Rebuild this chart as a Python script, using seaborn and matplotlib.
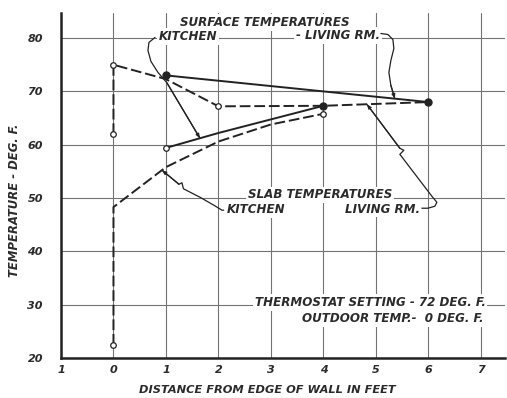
import numpy as np
import pandas as pd
import matplotlib
matplotlib.use("Agg")
import matplotlib.pyplot as plt
import seaborn as sns

# Measured temperatures (deg F) against distance from the edge of the wall (ft)
dist_surface_kitchen = [0, 0, 1, 2, 4, 6]
temp_surface_kitchen = [62, 75, 72.3, 67.2, 67.3, 68]
dist_surface_living = [1, 6]
temp_surface_living = [73, 68]
dist_slab_kitchen = [0, 0, 1, 2, 3, 4]
temp_slab_kitchen = [22.5, 48.3, 55.8, 60.6, 63.8, 65.8]
dist_slab_living = [1, 2, 4]
temp_slab_living = [59.4, 62.2, 67.3]

# Which readings carry open / filled circle markers (indices into each series)
open_surface_kitchen = [0, 1, 3]
open_slab_kitchen = [0, 5]
open_slab_living = [0]
filled_surface_living = [0, 1]
filled_slab_living = [2]

x_ticks = [-1, 0, 1, 2, 3, 4, 5, 6, 7]
x_tick_labels = ["1", "0", "1", "2", "3", "4", "5", "6", "7"]
y_ticks = [20, 30, 40, 50, 60, 70, 80]

sns.set_style("white")
plt.rcParams["font.family"] = ["DejaVu Sans"]

INK = "#222222"
GRID = "#737373"
LET = dict(family="DejaVu Sans", style="italic", weight="bold", color="#2b2b2b")
DASH = (0, (5.5, 2.0))

fig = plt.figure(figsize=(5.07, 3.98), dpi=100)
fig.patch.set_facecolor("white")
ax = fig.add_axes([0.1203, 0.1005, 0.8757, 0.8668])
ax.set_facecolor("white")

series = {
    "surface_kitchen": (dist_surface_kitchen, temp_surface_kitchen, DASH),
    "surface_living": (dist_surface_living, temp_surface_living, "-"),
    "slab_kitchen": (dist_slab_kitchen, temp_slab_kitchen, DASH),
    "slab_living": (dist_slab_living, temp_slab_living, "-"),
}
frames = {k: pd.DataFrame({"dist": v[0], "temp": v[1]}) for k, v in series.items()}

for name, (d, t, ls) in series.items():
    sns.lineplot(data=frames[name], x="dist", y="temp", sort=False, estimator=None,
                 color=INK, linestyle=ls, linewidth=1.4, ax=ax, zorder=4)

def markers(name, idx, filled):
    sub = frames[name].iloc[idx]
    sns.scatterplot(data=sub, x="dist", y="temp", ax=ax, zorder=6,
                    s=26 if filled else 16,
                    facecolor=INK if filled else "white",
                    edgecolor=INK, linewidth=0.9)

markers("surface_kitchen", open_surface_kitchen, False)
markers("slab_kitchen", open_slab_kitchen, False)
markers("slab_living", open_slab_living, False)
markers("surface_living", filled_surface_living, True)
markers("slab_living", filled_slab_living, True)

ax.set_xlim(-1, 7.46)
ax.set_ylim(20, 84.7)
ax.set_xticks(x_ticks)
ax.set_xticklabels(x_tick_labels)
ax.set_yticks(y_ticks)
ax.grid(True, color=GRID, linewidth=0.8)
ax.set_axisbelow(True)
for s in ("top", "right"):
    ax.spines[s].set_visible(False)
for s in ("left", "bottom"):
    ax.spines[s].set_color(INK)
    ax.spines[s].set_linewidth(1.8)
    ax.spines[s].set_zorder(5)
ax.tick_params(axis="x", length=0, pad=5, labelsize=8)
ax.tick_params(axis="y", length=0, pad=13, labelsize=8)
for lab in ax.get_xticklabels() + ax.get_yticklabels():
    lab.set_fontstyle("italic")
    lab.set_fontweight("bold")
    lab.set_color("#2b2b2b")

ax.set_xlabel("DISTANCE FROM EDGE OF WALL IN FEET", fontsize=8.2, **LET)
ax.set_ylabel("TEMPERATURE - DEG. F.", fontsize=8.4, **LET)
ax.xaxis.set_label_coords(0.464, -0.078)
ax.yaxis.set_label_coords(-0.090, 0.458)

box = dict(facecolor="white", edgecolor="none", pad=1.2)

def note(x, y, s, ha="center"):
    ax.text(x, y, s, ha=ha, va="center", fontsize=8.6, bbox=box, zorder=3, **LET)

note(2.89, 82.9, "SURFACE TEMPERATURES")
note(1.42, 80.3, "KITCHEN")
note(4.28, 80.5, "- LIVING RM.")
note(3.93, 50.6, "SLAB TEMPERATURES")
note(2.71, 47.8, "KITCHEN")
note(5.13, 47.9, "LIVING RM.")
note(7.09, 30.4, "THERMOSTAT SETTING - 72 DEG. F.", ha="right")
note(7.05, 27.4, "OUTDOOR TEMP.-  0 DEG. F.", ha="right")

def leader(route, xs, ys, tip_x):
    """Hand-drawn style leader from a label along a route to a point on a curve."""
    tip = (tip_x, float(np.interp(tip_x, xs, ys)))
    px = [p[0] for p in route] + [tip[0]]
    py = [p[1] for p in route] + [tip[1]]
    ax.plot(px, py, color=INK, linewidth=0.9, zorder=5, solid_capstyle="round")
    ax.annotate("", xy=tip, xytext=(px[-2], py[-2]), zorder=5,
                arrowprops=dict(arrowstyle="-|>,head_length=0.25,head_width=0.1",
                                color=INK, linewidth=0.9, shrinkA=0, shrinkB=0))

leader([(0.79, 80.11), (0.676, 79.18), (0.657, 77.68), (0.714, 75.62),
        (0.848, 73.56), (1.019, 71.6)],
       dist_slab_living, temp_slab_living, 1.648)
leader([(5.095, 80.86), (5.229, 80.67), (5.324, 79.74), (5.343, 78.05),
        (5.286, 75.81), (5.248, 73.56), (5.286, 71.12)],
       dist_surface_living, temp_surface_living, 5.362)
leader([(2.10, 47.72), (2.067, 47.72), (1.914, 48.65), (1.648, 50.15),
        (1.333, 51.74), (1.305, 52.87), (1.248, 52.58)],
       dist_slab_kitchen[1:], temp_slab_kitchen[1:], 0.924)
leader([(5.876, 48.09), (5.99, 48.09), (6.124, 48.46), (6.162, 49.21),
        (6.067, 50.34), (5.457, 58.2), (5.533, 58.95), (5.457, 59.33)],
       dist_surface_kitchen[1:], temp_surface_kitchen[1:], 4.829)

fig.savefig("out.png", dpi=100, facecolor="white")
